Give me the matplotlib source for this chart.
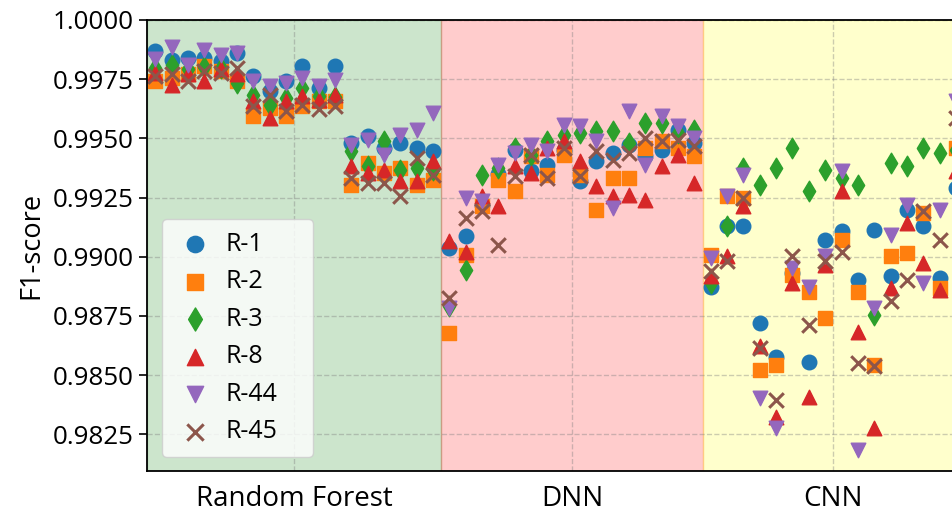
import numpy as np
import matplotlib.pyplot as plt

plt.rcParams['font.family'] = ['Open Sans', 'DejaVu Sans']

# ------------------------------------------------------------
# данные: F1-score по прогонам (18 RF, 16 DNN, 16 CNN)
# ------------------------------------------------------------
series_names = ['R-1', 'R-2', 'R-3', 'R-8', 'R-44', 'R-45']
model_names = ['Random Forest', 'DNN', 'CNN']
n_runs = [18, 16, 16]

r1 = [0.99868, 0.99833, 0.99840, 0.99840, 0.99826, 0.99861, 0.99762, 0.99699, 0.99741,
      0.99805, 0.99713, 0.99805, 0.99481, 0.99509, 0.99460, 0.99481, 0.99460, 0.99445,
      0.99037, 0.99089, 0.99220, 0.99350, 0.99452, 0.99361, 0.99389, 0.99450,
      0.99318, 0.99403, 0.99438, 0.99474, 0.99424, 0.99452, 0.99537, 0.99481,
      0.98874, 0.99128, 0.99128, 0.98720, 0.98578, 0.98930, 0.98557, 0.99072,
      0.99107, 0.98903, 0.99114, 0.98917, 0.99199, 0.99128, 0.98910, 0.99290]
r2 = [0.99741, 0.99757, 0.99770, 0.99805, 0.99784, 0.99741, 0.99593, 0.99630, 0.99593,
      0.99636, 0.99657, 0.99657, 0.99304, 0.99396, 0.99354, 0.99375, 0.99304, 0.99326,
      0.98677, 0.99008, 0.99213, 0.99326, 0.99276, 0.99424, 0.99347, 0.99431,
      0.99347, 0.99199, 0.99333, 0.99333, 0.99460, 0.99488, 0.99460, 0.99424,
      0.99008, 0.99255, 0.99248, 0.98522, 0.98543, 0.98924, 0.98853, 0.98741,
      0.99072, 0.98853, 0.98543, 0.99001, 0.99015, 0.99185, 0.98868, 0.99460]
r3 = [0.99798, 0.99812, 0.99791, 0.99800, 0.99798, 0.99734, 0.99685, 0.99643, 0.99672,
      0.99713, 0.99678, 0.99675, 0.99445, 0.99382, 0.99488, 0.99368, 0.99375, 0.99368,
      0.98790, 0.98945, 0.99347, 0.99375, 0.99460, 0.99431, 0.99488, 0.99516,
      0.99523, 0.99530, 0.99530, 0.99481, 0.99565, 0.99565, 0.99523, 0.99537,
      0.98889, 0.99128, 0.99375, 0.99304, 0.99375, 0.99460, 0.99276, 0.99368,
      0.99333, 0.99304, 0.98755, 0.99396, 0.99382, 0.99460, 0.99438, 0.99452]
r8 = [0.99775, 0.99727, 0.99770, 0.99741, 0.99791, 0.99770, 0.99657, 0.99588, 0.99657,
      0.99678, 0.99664, 0.99685, 0.99382, 0.99354, 0.99368, 0.99318, 0.99318, 0.99403,
      0.99065, 0.99022, 0.99255, 0.99213, 0.99382, 0.99354, 0.99460, 0.99488,
      0.99403, 0.99297, 0.99255, 0.99262, 0.99241, 0.99382, 0.99431, 0.99312,
      0.98917, 0.99001, 0.99213, 0.98621, 0.98325, 0.98889, 0.98409, 0.98966,
      0.99276, 0.98684, 0.98276, 0.98868, 0.99142, 0.98973, 0.98860, 0.99361]
r44 = [0.99837, 0.99885, 0.99812, 0.99875, 0.99854, 0.99861, 0.99741, 0.99720, 0.99734,
       0.99756, 0.99720, 0.99748, 0.99474, 0.99495, 0.99431, 0.99516, 0.99537, 0.99608,
       0.98783, 0.99248, 0.99234, 0.99389, 0.99438, 0.99474, 0.99445, 0.99558,
       0.99551, 0.99488, 0.99206, 0.99614, 0.99389, 0.99593, 0.99551, 0.99502,
       0.98994, 0.99255, 0.99347, 0.98403, 0.98276, 0.98952, 0.98874, 0.99001,
       0.99361, 0.98184, 0.98783, 0.99093, 0.99220, 0.98889, 0.99199, 0.99657]
r45 = [0.99762, 0.99770, 0.99741, 0.99784, 0.99777, 0.99798, 0.99636, 0.99685, 0.99614,
       0.99643, 0.99622, 0.99636, 0.99333, 0.99312, 0.99312, 0.99255, 0.99417, 0.99347,
       0.98825, 0.99164, 0.99192, 0.99051, 0.99340, 0.99431, 0.99333, 0.99460,
       0.99340, 0.99445, 0.99410, 0.99438, 0.99502, 0.99488, 0.99495, 0.99467,
       0.98938, 0.98980, 0.99248, 0.98614, 0.98395, 0.99001, 0.98712, 0.98980,
       0.99022, 0.98550, 0.98539, 0.98811, 0.98903, 0.99192, 0.99072, 0.99586]

all_series = [r1, r2, r3, r8, r44, r45]
markers = ['o', 's', 'd', '^', 'v', 'x']
colors = ['tab:blue', 'tab:orange', 'tab:green', 'tab:red', 'tab:purple', 'tab:brown']
span_colors = ['green', 'red', 'yellow']

x = np.arange(sum(n_runs))
edges = np.concatenate(([0], np.cumsum(n_runs))) - 0.5

# ------------------------------------------------------------
# рисунок
# ------------------------------------------------------------
fig = plt.figure(figsize=(9.53, 5.14), dpi=100)
ax = fig.add_axes([0.1543, 0.0837, 0.8573, 0.8774])

for k in range(len(model_names)):
    ax.axvspan(edges[k], edges[k + 1], color=span_colors[k], alpha=0.2, zorder=0)

for vals, name, m, c in zip(all_series, series_names, markers, colors):
    if m == 'x':
        ax.scatter(x, vals, marker=m, color=c, s=110, linewidths=2.2, label=name, zorder=2)
    else:
        ax.scatter(x, vals, marker=m, color=c, s=110, label=name, zorder=2)

centers = (edges[:-1] + edges[1:]) / 2
ax.set_xticks(centers)
ax.set_xticklabels(model_names, fontsize=20)
ax.tick_params(axis='x', length=0, pad=10)
yt = np.arange(0.9825, 1.0001, 0.0025)
ax.set_yticks(yt)
ax.set_yticklabels([f'{v:.4f}' for v in yt])
ax.tick_params(axis='y', labelsize=18.7, length=6, width=1.2)

ax.set_xlim(-0.5, sum(n_runs) - 0.5)
ax.set_ylim(0.98095, 1.0)
ax.set_ylabel('F1-score', fontsize=19.5, labelpad=5)

ax.set_axisbelow(True)
ax.grid(True, linestyle='--', color='gray', alpha=0.4, linewidth=1.0)
for sp in ax.spines.values():
    sp.set_linewidth(1.3)

# легенда растянута по ширине, как в оригинале
ax.legend(loc='lower left', bbox_to_anchor=(0.0184, 0.031, 0.185, 0.5), mode='expand',
          borderaxespad=0, fontsize=18, labelspacing=0.5, handlelength=1.6,
          handletextpad=0.45, borderpad=0.5, markerscale=1.12)

plt.savefig('out.png', dpi=100)
